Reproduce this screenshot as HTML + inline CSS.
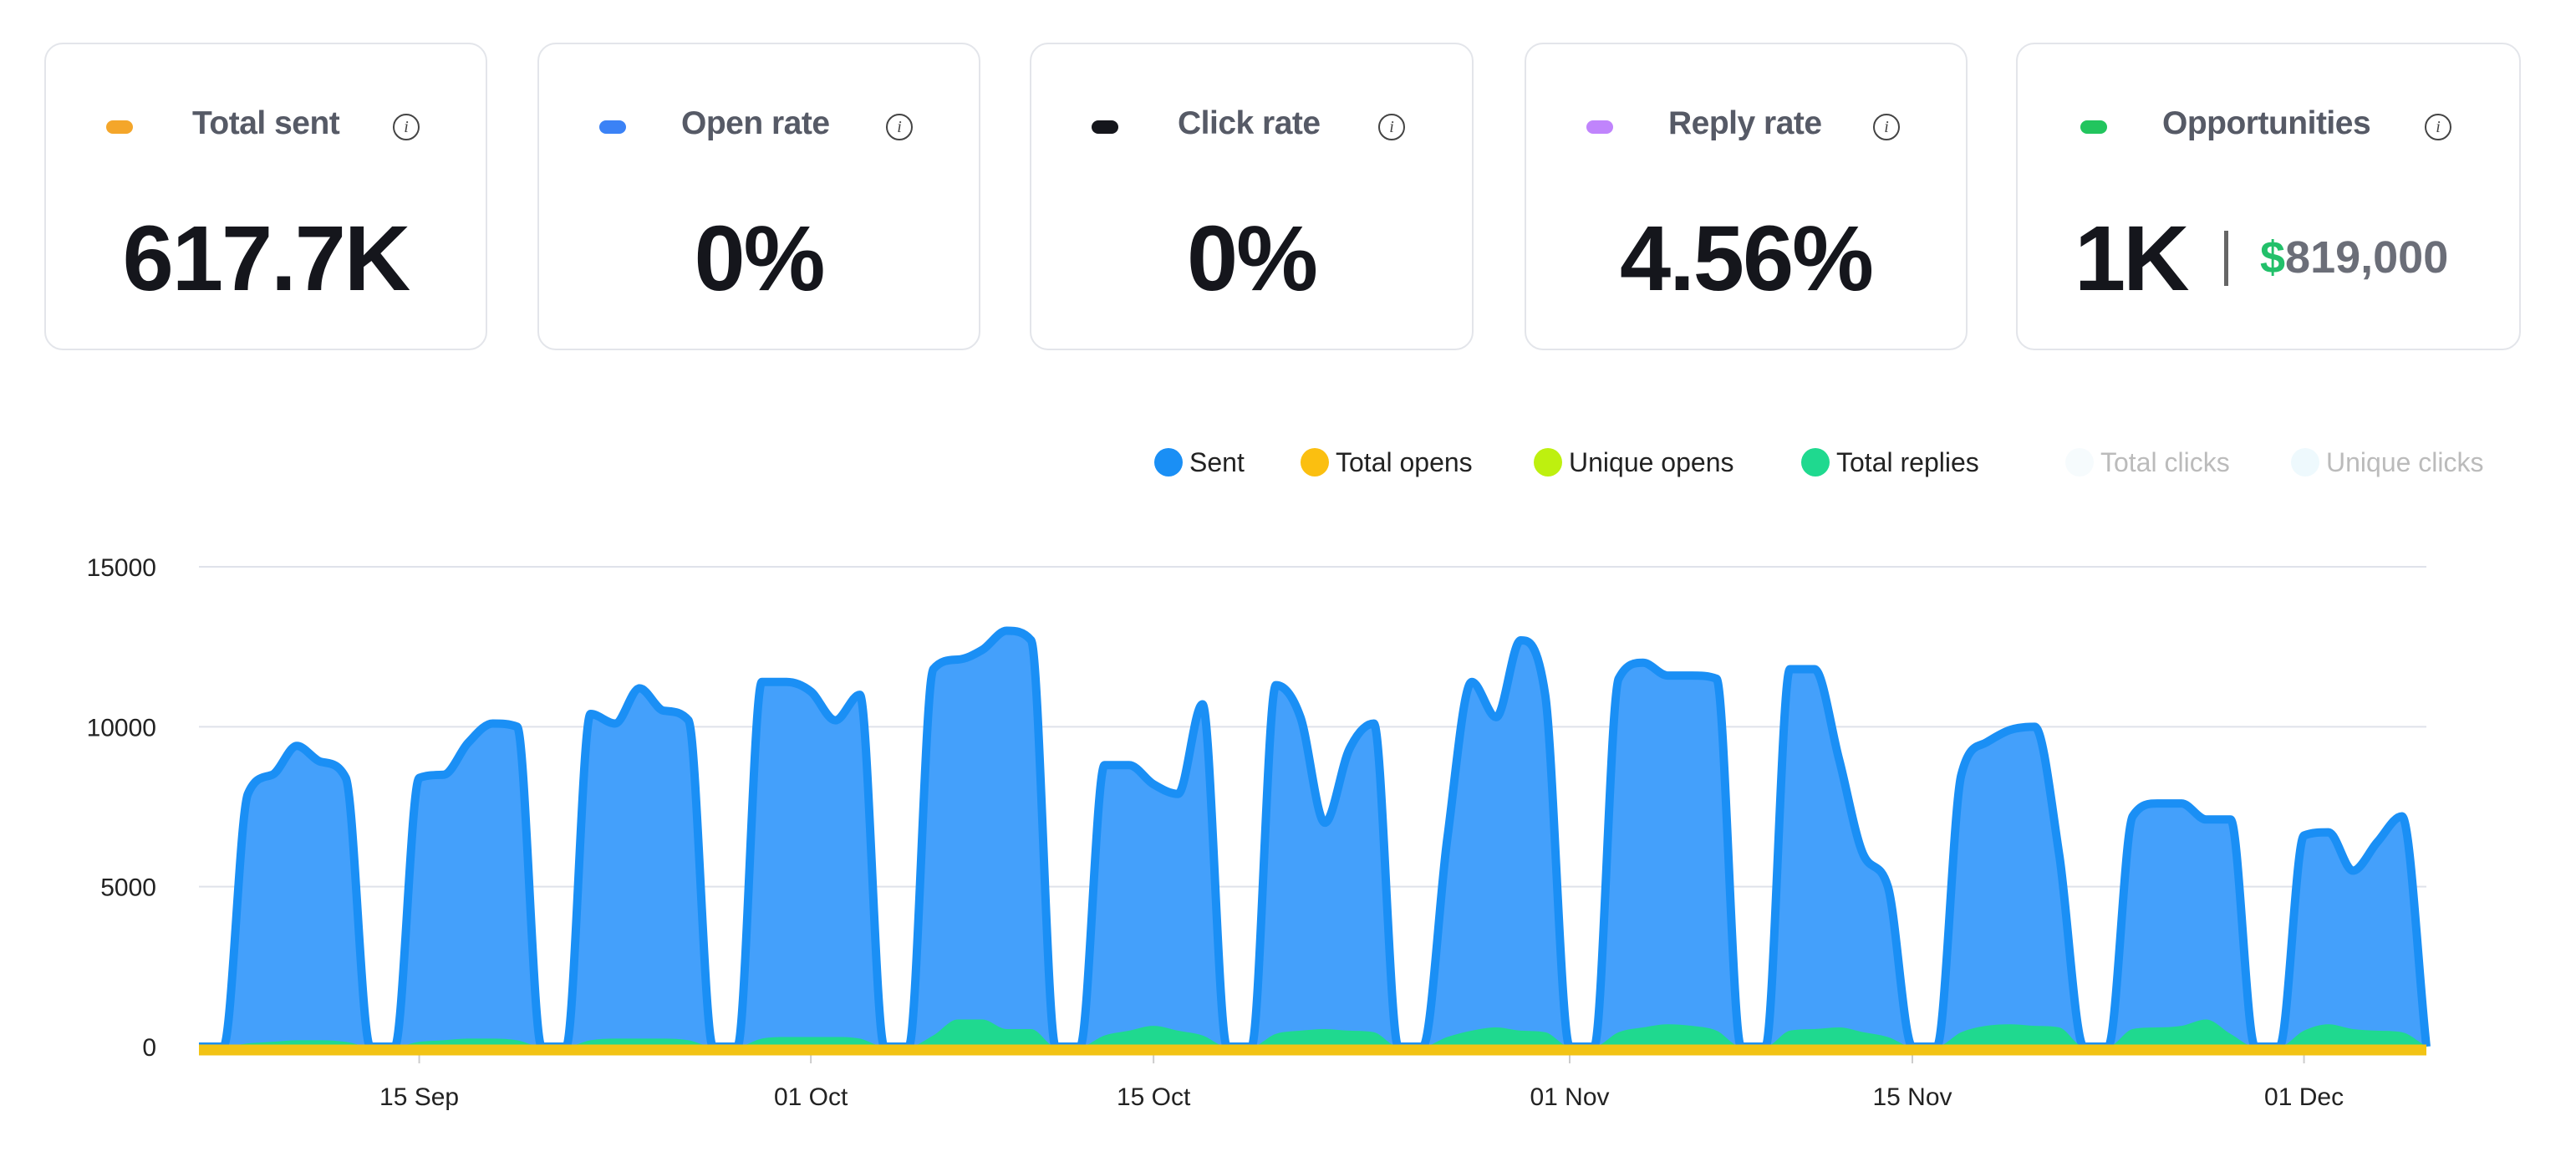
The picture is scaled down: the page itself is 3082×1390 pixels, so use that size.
<!DOCTYPE html>
<html><head><meta charset="utf-8">
<style>
body{margin:0;width:3082px;height:1390px;background:#fff;font-family:"Liberation Sans",sans-serif;overflow:hidden;position:relative}
.card{position:absolute;top:51px;height:368px;border:2px solid #e3e5ea;border-radius:22px;box-sizing:border-box;background:#fff}
.dot{position:absolute;top:91px;width:32px;height:16px;border-radius:8px}
.lbl{position:absolute;top:73px;font-size:39px;color:#565a66;font-weight:bold;letter-spacing:-0.5px}
.info{position:absolute;top:83px;width:32px;height:32px;border:2px solid #444;border-radius:50%;box-sizing:border-box;font:italic 20px "Liberation Serif",serif;text-align:center;line-height:28px;color:#444}
.big{position:absolute;top:193px;left:0;right:0;text-align:center;font-size:110px;font-weight:bold;color:#15161c;letter-spacing:-2px}
</style></head><body>
<div class="card" style="left:53px;width:530px">
 <div class="dot" style="left:72px;background:#f4a62a"></div>
 <div class="lbl" style="left:175px">Total sent</div>
 <div class="info" style="left:415px">i</div>
 <div class="big">617.7K</div>
</div>
<div class="card" style="left:643px;width:530px">
 <div class="dot" style="left:72px;background:#3b82f6"></div>
 <div class="lbl" style="left:170px">Open rate</div>
 <div class="info" style="left:415px">i</div>
 <div class="big">0%</div>
</div>
<div class="card" style="left:1232px;width:531px">
 <div class="dot" style="left:72px;background:#15161c"></div>
 <div class="lbl" style="left:175px">Click rate</div>
 <div class="info" style="left:415px">i</div>
 <div class="big">0%</div>
</div>
<div class="card" style="left:1824px;width:530px">
 <div class="dot" style="left:72px;background:#c084fc"></div>
 <div class="lbl" style="left:170px">Reply rate</div>
 <div class="info" style="left:415px">i</div>
 <div class="big">4.56%</div>
</div>
<div class="card" style="left:2412px;width:604px">
 <div class="dot" style="left:75px;background:#22c55e"></div>
 <div class="lbl" style="left:173px">Opportunities</div>
 <div class="info" style="left:487px">i</div>
 <div style="position:absolute;top:193px;left:68px;font-size:110px;font-weight:bold;color:#15161c;letter-spacing:-3px">1K</div>
 <div style="position:absolute;top:223px;left:247px;width:5px;height:66px;background:#666"></div>
 <div style="position:absolute;top:224px;left:290px;font-size:54px;font-weight:bold;color:#6b6e78"><span style="color:#22c06a">$</span>819,000</div>
</div>

<svg id="chart" width="3082" height="1390" style="position:absolute;left:0;top:0"></svg>
<script>
const blueVals=[0,0,7900,8500,9400,8900,8400,0,0,8400,8500,9500,10100,10000,0,0,10400,10100,11200,10500,10200,0,0,11400,11400,11100,10200,11000,0,0,11800,12100,12400,13000,12700,0,0,8800,8800,8200,7900,10700,0,0,11300,10300,7000,9300,10100,0,0,6500,11400,10300,12700,11000,0,0,11500,12000,11600,11600,11500,0,0,11800,11800,9000,6000,5000,0,0,8500,9500,9900,10000,6000,0,0,7200,7600,7600,7100,7100,0,0,6600,6700,5500,6400,7200,0];
const replyVals=[0,0,100,150,200,200,150,0,0,150,200,250,250,200,0,0,200,250,250,250,200,0,0,250,300,300,300,250,0,0,350,850,850,550,550,0,0,350,500,650,500,350,0,0,400,500,550,500,450,0,0,300,500,600,500,450,0,0,450,600,700,650,500,0,0,500,550,600,450,300,0,0,450,650,700,650,600,0,0,550,600,650,850,400,0,0,500,700,550,500,450,0];
const opensVals=blueVals.map(()=>0);
const yTicks=[0,5000,10000,15000];
const xTickDays=[9,25,39,56,70,86];
const xTickLabels=["15 Sep","01 Oct","15 Oct","01 Nov","15 Nov","01 Dec"];
const legendNames=["Sent","Total opens","Unique opens","Total replies","Total clicks","Unique clicks"];
const legendColors=["#1a8ff5","#fbbf10","#bef00f","#1fd98f","#f6fbfd","#eef9fd"];

const NS="http://www.w3.org/2000/svg";
const svg=document.getElementById('chart');
const X0=238,X1=2903,Y0=1252,Y1=678,YMAX=15000;
const xs=i=>X0+i*(X1-X0)/(blueVals.length-1);
const ys=v=>Y0-v*(Y0-Y1)/YMAX;
function mk(t,a){const e=document.createElementNS(NS,t);for(const k in a)e.setAttribute(k,a[k]);svg.appendChild(e);return e;}
function mono(vals){
 const n=vals.length,px=vals.map((v,i)=>xs(i)),py=vals.map(ys);
 const d=[],m=[];for(let i=0;i<n-1;i++)d.push((py[i+1]-py[i])/(px[i+1]-px[i]));
 for(let i=0;i<n;i++){if(i==0)m.push(d[0]);else if(i==n-1)m.push(d[n-2]);else m.push(d[i-1]*d[i]<=0?0:(d[i-1]+d[i])/2);}
 for(let i=0;i<n-1;i++){if(d[i]==0){m[i]=0;m[i+1]=0;continue;}const a=m[i]/d[i],b=m[i+1]/d[i],s=a*a+b*b;if(s>9){const t=3/Math.sqrt(s);m[i]=t*a*d[i];m[i+1]=t*b*d[i];}}
 let p="M"+px[0]+","+py[0];
 for(let i=0;i<n-1;i++){const h=(px[i+1]-px[i])/3;p+=" C"+(px[i]+h)+","+(py[i]+m[i]*h)+" "+(px[i+1]-h)+","+(py[i+1]-m[i+1]*h)+" "+px[i+1]+","+py[i+1];}
 return p;
}
yTicks.forEach(v=>{
 const g=mk('line',{x1:X0,x2:X1,y1:ys(v),y2:ys(v),stroke:'#dfe2ea','stroke-width':2});
 
 
 const t=mk('text',{x:187,y:ys(v)+11,'text-anchor':'end','font-size':30,fill:'#222','font-family':'Liberation Sans, sans-serif'});
 t.textContent=v;
 
 
});
xTickDays.forEach((d,k)=>{
 const tk=mk('line',{x1:xs(d),x2:xs(d),y1:1262,y2:1272,stroke:'#ccc','stroke-width':2});
 
 
 const t=mk('text',{x:xs(d),y:1322,'text-anchor':'middle','font-size':30,fill:'#222','font-family':'Liberation Sans, sans-serif'});
 t.textContent=xTickLabels[k];
 
 
});
const bp=mono(blueVals);
const area=mk('path',{d:bp+" L"+X1+","+Y0+" L"+X0+","+Y0+" Z",fill:'#44a0fb'});


const line=mk('path',{d:bp,fill:'none',stroke:'#1a8ff5','stroke-width':10,'stroke-linejoin':'round'});


const rp=mono(replyVals);
const rarea=mk('path',{d:rp+" L"+X1+","+Y0+" L"+X0+","+Y0+" Z",fill:'#1fd98f'});


const op=mk('path',{d:mono(opensVals),fill:'none',stroke:'#f2c315','stroke-width':13,transform:'translate(0,4)'});


let lx=[1380,1555,1834,2154,2470,2740];
legendNames.forEach((n,k)=>{
 const c=mk('circle',{cx:lx[k]+18,cy:553,r:17,fill:legendColors[k]});
 
 
 const t=mk('text',{x:lx[k]+43,y:564,'font-size':32,fill:k<4?'#222':'#bbb','font-family':'Liberation Sans, sans-serif'});
 t.textContent=n;
 
 
});
</script>
</body></html>
